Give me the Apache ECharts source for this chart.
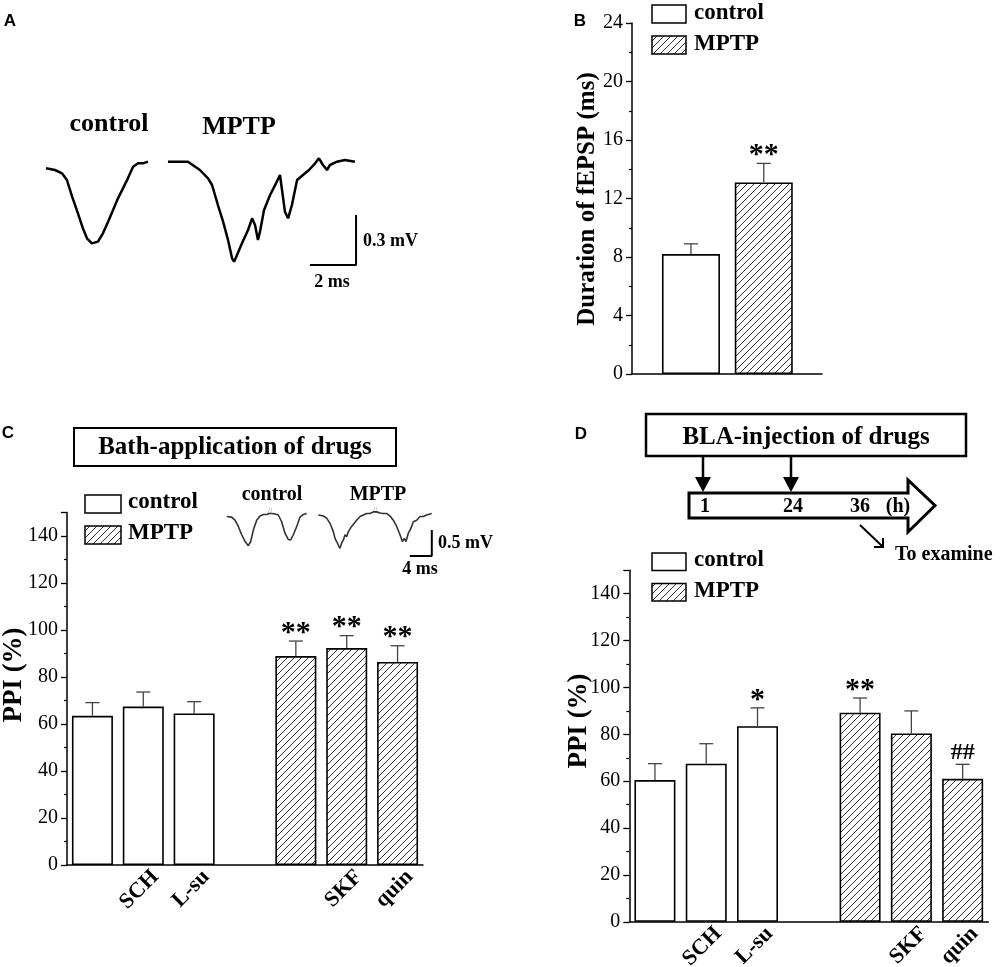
<!DOCTYPE html>
<html>
<head>
<meta charset="utf-8">
<script src="https://cdn.jsdelivr.net/npm/echarts@6/dist/echarts.min.js"></script>
<style>
  html, body { margin: 0; padding: 0; background: #fff; }
  #container { width: 1000px; height: 967px; }
</style>
</head>
<body>
<div id="container"></div>
<script>
// ---- data ----
// panel A traces: [time (ms), voltage (mV)]
var traceControlA = [[0, -0.02], [0.4, -0.03], [0.71, -0.05], [0.93, -0.09], [1.16, -0.19], [1.42, -0.29],
  [1.64, -0.38], [1.82, -0.44], [2.04, -0.47], [2.31, -0.46], [2.53, -0.41], [2.76, -0.34], [2.98, -0.27],
  [3.2, -0.2], [3.42, -0.14], [3.64, -0.08], [3.87, -0.01], [4.09, 0.01], [4.31, 0.01], [4.53, 0.02]];
var traceMptpA = [[5.42, 0.02], [6.31, 0.02], [6.84, -0.03], [7.2, -0.08], [7.38, -0.12], [7.64, -0.24],
  [7.87, -0.34], [8.09, -0.45], [8.27, -0.56], [8.36, -0.58], [8.49, -0.54], [8.71, -0.47], [8.98, -0.39],
  [9.16, -0.32], [9.29, -0.36], [9.42, -0.45], [9.51, -0.4], [9.69, -0.27], [9.96, -0.18], [10.22, -0.11],
  [10.4, -0.06], [10.49, -0.15], [10.62, -0.28], [10.76, -0.32], [10.93, -0.24], [11.16, -0.09], [11.42, -0.06],
  [11.69, -0.03], [11.96, 0.01], [12.13, 0.04], [12.31, 0], [12.49, -0.03], [12.62, 0], [12.93, 0.02],
  [13.29, 0.03], [13.73, 0.02]];
var scaleBarA = [[11.73, -0.6], [13.78, -0.6], [13.78, -0.3]]; // 2 ms, 0.3 mV

// panel C inset traces
var traceControlC = [[0.31, -0.03], [1.22, -0.04], [1.82, -0.1], [2.42, -0.22], [3.04, -0.38], [3.64, -0.51],
  [4.24, -0.59], [4.67, -0.51], [5.15, -0.29], [5.76, -0.1], [6.36, -0.02], [6.96, 0.01], [7.58, 0.01],
  [8.05, 0.03], [8.49, 0.03], [9.09, 0.02], [9.69, 0], [10.3, -0.13], [10.9, -0.35], [11.5, -0.47],
  [11.95, -0.48], [12.42, -0.38], [13.04, -0.22], [13.64, -0.04], [14.24, 0.01], [14.85, 0.03]];
var traceMptpC = [[16.97, 0], [17.88, -0.02], [18.48, -0.06], [19.09, -0.16], [19.7, -0.32], [20, -0.45],
  [20.3, -0.51], [20.61, -0.58], [20.91, -0.64], [21.21, -0.54], [21.52, -0.48], [21.82, -0.38], [22.12, -0.42],
  [22.42, -0.32], [22.73, -0.35], [23.03, -0.22], [23.33, -0.22], [23.94, -0.1], [24.55, -0.03], [25.15, 0],
  [25.76, 0.03], [26.36, 0.03], [26.97, 0.06], [27.58, 0.06], [28.18, 0.04], [28.79, 0.03], [29.39, 0.03],
  [30, -0.02], [30.61, -0.1], [31.21, -0.22], [31.82, -0.38], [32.24, -0.51], [32.61, -0.45], [32.91, -0.51],
  [33.33, -0.35], [33.64, -0.29], [33.94, -0.22], [34.24, -0.13], [34.85, -0.1], [35.45, -0.03], [36.06, -0.03],
  [36.67, 0], [37.58, 0.03]];
var scaleBarC = [[33.6, -0.79], [37.6, -0.79], [37.6, -0.29]]; // 4 ms, 0.5 mV

// panel B
var groupsB = ['control', 'MPTP'];
var durationMean = [8.2, 13.1];
var durationSem = [0.7, 1.3];
var durationSig = ['', '**'];

// panel C (bath application)
var drugLabels = ['', 'SCH', 'L-su', '', '', 'SKF', 'quin'];
var bathControl = [63.5, 67.4, 64.5];
var bathControlSem = [5.6, 6.2, 5.0];
var bathMptp = [88.9, 92.3, 86.4];
var bathMptpSem = [6.4, 5.3, 6.9];
var bathSigControl = ['', '', ''];
var bathSigMptp = ['**', '**', '**'];

// panel D (BLA injection)
var blaControl = [60.5, 67.5, 83.5];
var blaControlSem = [7.0, 8.5, 7.8];
var blaMptp = [89.2, 80.4, 61.0];
var blaMptpSem = [6.3, 9.6, 6.2];
var blaSigControl = ['', '', '*'];
var blaSigMptp = ['**', '', '##'];

var timelineTicks = ['1', '24', '36', '(h)'];

// ---- helpers ----
var SERIF = '"Liberation Serif", "Times New Roman", serif';

function makeHatch() {
  var s = 7;
  var c = document.createElement('canvas');
  c.width = s; c.height = s;
  var g = c.getContext('2d');
  g.fillStyle = '#fff';
  g.fillRect(0, 0, s, s);
  g.strokeStyle = '#333';
  g.lineWidth = 1;
  g.beginPath();
  g.moveTo(0, s); g.lineTo(s, 0);
  g.moveTo(-1, 1); g.lineTo(1, -1);
  g.moveTo(s - 1, s + 1); g.lineTo(s + 1, s - 1);
  g.stroke();
  return c;
}
var hatch = { image: makeHatch(), repeat: 'repeat' };

function padSlots(values, start) {
  var out = ['-', '-', '-', '-', '-', '-', '-'];
  values.forEach(function (v, i) { out[start + i] = v; });
  return out;
}

function errData(means, sems, start) {
  return means.map(function (m, i) { return [start + i, m, m + sems[i]]; });
}

function errRender(marks) {
  return function (params, api) {
    var x = api.value(0);
    var p0 = api.coord([x, api.value(1)]);
    var p1 = api.coord([x, api.value(2)]);
    var half = 7;
    var st = { stroke: '#444', lineWidth: 1.3 };
    var children = [
      { type: 'line', shape: { x1: p0[0], y1: p0[1], x2: p1[0], y2: p1[1] }, style: st },
      { type: 'line', shape: { x1: p1[0] - half, y1: p1[1], x2: p1[0] + half, y2: p1[1] }, style: st }
    ];
    var mark = marks[params.dataIndex];
    if (mark) {
      var isHash = mark.charAt(0) === '#';
      children.push({
        type: 'text', x: p1[0], y: p1[1] - (isHash ? 12 : 8),
        style: {
          text: mark, fill: '#000', align: 'center', verticalAlign: 'middle',
          font: 'bold ' + (isHash ? 24 : 30) + 'px ' + SERIF
        }
      });
    }
    return { type: 'group', children: children };
  };
}

function barYAxis(grid, max, interval) {
  return {
    gridIndex: grid, type: 'value', min: 0, max: max, interval: interval,
    axisLine: { show: true, lineStyle: { color: '#000', width: 1.5 } },
    axisTick: { show: true, length: 6, lineStyle: { color: '#000', width: 1.3 } },
    minorTick: { show: true, splitNumber: 2, length: 3, lineStyle: { color: '#000', width: 1.2 } },
    axisLabel: { color: '#000', fontFamily: SERIF, fontSize: 20, margin: 9, showMaxLabel: max % interval === 0 },
    splitLine: { show: false }
  };
}

function drugXAxis(grid) {
  return {
    gridIndex: grid, type: 'category', data: drugLabels, boundaryGap: true,
    axisLine: { show: true, lineStyle: { color: '#000', width: 1.5 } },
    axisTick: { show: false },
    axisLabel: {
      interval: 0, rotate: 45, margin: -9, verticalAlign: 'top', padding: [10, 4, 0, 0],
      color: '#000', fontFamily: SERIF, fontWeight: 'bold', fontSize: 22
    },
    splitLine: { show: false }
  };
}

function traceSeries(xi, data, color, width) {
  return {
    type: 'line', xAxisIndex: xi, yAxisIndex: xi, data: data, showSymbol: false, silent: true,
    lineStyle: { color: color, width: width }
  };
}

function barSeries(xi, data, fill, width) {
  return {
    type: 'bar', xAxisIndex: xi, yAxisIndex: xi, data: data, barWidth: width, barGap: '-100%',
    itemStyle: { color: fill, borderColor: '#000', borderWidth: 1.6 }, silent: true
  };
}

function errSeries(xi, data, marks) {
  return {
    type: 'custom', xAxisIndex: xi, yAxisIndex: xi, data: data, renderItem: errRender(marks),
    silent: true, z: 5
  };
}

function txt(x, y, text, size, opts) {
  opts = opts || {};
  return {
    type: 'text', x: x, y: y, rotation: opts.rotation || 0, silent: true,
    style: {
      text: text, fill: opts.fill || '#000', align: opts.align || 'center', verticalAlign: 'middle',
      font: (opts.normal ? '' : 'bold ') + size + 'px ' + (opts.sans ? '"Liberation Sans", Arial, sans-serif' : SERIF)
    }
  };
}

function legendBox(x, y, w, h, fill) {
  return { type: 'rect', shape: { x: x, y: y, width: w, height: h }, style: { fill: fill, stroke: '#000', lineWidth: 1.5 }, silent: true };
}

function downArrow(x, y0, y1) {
  return [
    { type: 'line', shape: { x1: x, y1: y0, x2: x, y2: y1 - 12 }, style: { stroke: '#000', lineWidth: 2.5 } },
    { type: 'polygon', shape: { points: [[x - 8, y1 - 15], [x + 8, y1 - 15], [x, y1]] }, style: { fill: '#000' } }
  ];
}

// ---- chart ----
var dom = document.getElementById('container');
var myChart = echarts.init(dom, null, { renderer: 'canvas' });

var barXB = groupsB.map(function (g, i) { return i + 1; });

var graphics = [
  txt(10, 21, 'A', 17, { sans: true }),
  txt(580, 21, 'B', 17, { sans: true }),
  txt(8, 433, 'C', 17, { sans: true }),
  txt(581, 434, 'D', 17, { sans: true }),

  // panel A labels
  txt(109, 124, 'control', 26),
  txt(239, 127, 'MPTP', 26),
  txt(363, 241, '0.3 mV', 18, { align: 'left' }),
  txt(332, 282, '2 ms', 18),

  // panel B legend + axis name
  legendBox(652, 5, 34, 18, '#fff'),
  legendBox(652, 36, 34, 18, hatch),
  txt(694, 13, 'control', 23, { align: 'left' }),
  txt(694, 44, 'MPTP', 23, { align: 'left' }),
  txt(588, 199, 'Duration of fEPSP (ms)', 25, { rotation: Math.PI / 2 }),

  // panel C
  { type: 'rect', shape: { x: 74, y: 428, width: 322, height: 38 }, style: { fill: '#fff', stroke: '#000', lineWidth: 2 }, silent: true },
  txt(235, 448, 'Bath-application of drugs', 25),
  legendBox(85, 495, 36, 18, '#fff'),
  legendBox(85, 526, 36, 18, hatch),
  txt(128, 502, 'control', 23, { align: 'left' }),
  txt(128, 533, 'MPTP', 23, { align: 'left' }),
  txt(14, 675, 'PPI (%)', 27, { rotation: Math.PI / 2 }),
  txt(272, 495, 'control', 20),
  txt(378, 495, 'MPTP', 20),
  txt(270, 512, '//', 8, { fill: '#777', normal: true }),
  txt(375, 511, '//', 8, { fill: '#777', normal: true }),
  txt(438, 543, '0.5 mV', 18, { align: 'left' }),
  txt(420, 569, '4 ms', 18),

  // panel D
  { type: 'rect', shape: { x: 646, y: 414, width: 320, height: 42 }, style: { fill: '#fff', stroke: '#000', lineWidth: 2.5 }, silent: true },
  txt(806, 438, 'BLA-injection of drugs', 25),
  { type: 'polygon', shape: { points: [[689, 493], [908, 493], [908, 480], [935, 505.5], [908, 532], [908, 518], [689, 518]] },
    style: { fill: '#fff', stroke: '#000', lineWidth: 3 }, silent: true },
  txt(705, 507, timelineTicks[0], 20),
  txt(793, 507, timelineTicks[1], 20),
  txt(860, 507, timelineTicks[2], 20),
  txt(898, 507, timelineTicks[3], 20),
  { type: 'line', shape: { x1: 860, y1: 525, x2: 882, y2: 546 }, style: { stroke: '#000', lineWidth: 2 }, silent: true },
  { type: 'polyline', shape: { points: [[874, 547], [883, 547], [883, 538]] }, style: { stroke: '#000', lineWidth: 2, fill: null }, silent: true },
  txt(895, 555, 'To examine', 20, { align: 'left' }),
  legendBox(652, 553, 34, 17.5, '#fff'),
  legendBox(652, 583.5, 34, 17.5, hatch),
  txt(694, 560, 'control', 23, { align: 'left' }),
  txt(694, 591, 'MPTP', 23, { align: 'left' }),
  txt(579, 721, 'PPI (%)', 27, { rotation: Math.PI / 2 })
].concat(downArrow(703, 456, 492)).concat(downArrow(791, 456, 492));

var option = {
  animation: false,
  backgroundColor: '#fff',
  grid: [
    { left: 46, top: 140, width: 360, height: 150, containLabel: false, outerBoundsMode: 'none' },
    { left: 632, top: 23, width: 190, height: 351, containLabel: false, outerBoundsMode: 'none' },
    { left: 67, top: 512.5, width: 356, height: 352.5, containLabel: false, outerBoundsMode: 'none' },
    { left: 225, top: 499.4, width: 220, height: 67.6, containLabel: false, outerBoundsMode: 'none' },
    { left: 629.3, top: 570.3, width: 359, height: 351.5, containLabel: false, outerBoundsMode: 'none' }
  ],
  xAxis: [
    { gridIndex: 0, type: 'value', min: 0, max: 16, show: false },
    { gridIndex: 1, type: 'value', min: 0.19, max: 2.8,
      axisLine: { show: true, onZero: false, lineStyle: { color: '#000', width: 1.5 } },
      axisTick: { show: false }, axisLabel: { show: false }, splitLine: { show: false } },
    drugXAxis(2),
    { gridIndex: 3, type: 'value', min: 0, max: 40, show: false },
    drugXAxis(4)
  ],
  yAxis: [
    { gridIndex: 0, type: 'value', min: -0.75, max: 0.15, show: false },
    barYAxis(1, 24, 4),
    barYAxis(2, 150, 20),
    { gridIndex: 3, type: 'value', min: -1, max: 0.3, show: false },
    barYAxis(4, 150, 20)
  ],
  graphic: graphics,
  series: [
    traceSeries(0, traceControlA, '#000', 2.5),
    traceSeries(0, traceMptpA, '#000', 2.5),
    traceSeries(0, scaleBarA, '#000', 2),

    barSeries(1, [[barXB[0], durationMean[0]]], '#fff', 58),
    barSeries(1, [[barXB[1], durationMean[1]]], hatch, 58),
    errSeries(1, barXB.map(function (x, i) { return [x, durationMean[i], durationMean[i] + durationSem[i]]; }), durationSig),

    barSeries(2, padSlots(bathControl, 0), '#fff', 41),
    barSeries(2, padSlots(bathMptp, 4), hatch, 41),
    errSeries(2, errData(bathControl, bathControlSem, 0), bathSigControl),
    errSeries(2, errData(bathMptp, bathMptpSem, 4), bathSigMptp),

    traceSeries(3, traceControlC, '#333', 1.6),
    traceSeries(3, traceMptpC, '#333', 1.6),
    traceSeries(3, scaleBarC, '#000', 2),

    barSeries(4, padSlots(blaControl, 0), '#fff', 41),
    barSeries(4, padSlots(blaMptp, 4), hatch, 41),
    errSeries(4, errData(blaControl, blaControlSem, 0), blaSigControl),
    errSeries(4, errData(blaMptp, blaMptpSem, 4), blaSigMptp)
  ]
};

if (option && typeof option === 'object') {
  myChart.setOption(option, true);
}
</script>
</body>
</html>
